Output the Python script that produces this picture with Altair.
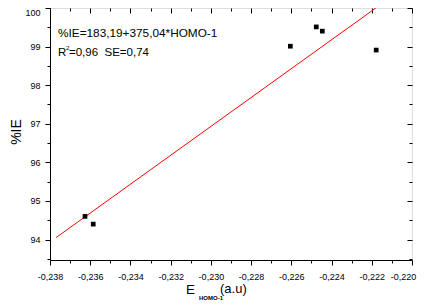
import altair as alt
import pandas as pd

# data
homo = [-0.23626, -0.23585, -0.22605, -0.22476, -0.22446, -0.22178]
ie = [94.60, 94.40, 99.01, 99.51, 99.40, 98.91]
fit_x = [-0.2377, -0.2218]
fit_y = [94.05, 100.0]
x_major = [-0.238, -0.236, -0.234, -0.232, -0.230, -0.228, -0.226, -0.224, -0.222, -0.220]
x_minor = [-0.237, -0.235, -0.233, -0.231, -0.229, -0.227, -0.225, -0.223, -0.221]
y_major = [94, 95, 96, 97, 98, 99, 100]
y_minor = [93.5, 94.5, 95.5, 96.5, 97.5, 98.5, 99.5]
eq_text = ["%IE=183,19+375,04*HOMO-1"]
r_text = ["R"]
r_sup = ["2"]
r_rest = ["=0,96\u00a0\u00a0SE=0,74"]
ytitle = ["%IE"]
xt_e = ["E"]
xt_sub = ["HOMO-1"]
xt_unit = ["(a.u)"]

FONT = "Liberation Sans"
pts = pd.DataFrame({"x": homo, "y": ie})
fit = pd.DataFrame({"x": fit_x, "y": fit_y})

xs = alt.Scale(domain=[-0.238, -0.220], nice=False, zero=False)
ys = alt.Scale(domain=[93.47, 100], nice=False, zero=False)

xlab = "replace(replace(format(datum.value, '.3f'), '.', ','), '\u2212', '-')"


def axis_kw(size, labels, offset, domain):
    return dict(tickSize=size, labels=labels, offset=offset, domain=domain, title=None,
                grid=False, ticks=True, tickColor="black", domainColor="black",
                labelFont=FONT, labelFontSize=9, labelColor="black",
                labelOverlap=False)


def axis_layer(ox, oy, xv, yv, size, labels, offset, domain, xoff=0):
    kw = axis_kw(size, labels, offset, domain)
    ax = alt.Axis(orient=ox, values=xv, labelExpr=xlab, labelPadding=7,
                  labelFlush=False, labelOffset=xoff, **kw)
    if yv is None:
        ay = None
    else:
        ay = alt.Axis(orient=oy, values=yv, labelExpr="format(datum.value, 'd')",
                      labelPadding=5, labelFlush=True, **kw)
    return alt.Chart(pts).mark_point(opacity=0).encode(
        x=alt.X("x:Q", scale=xs, axis=ax),
        y=alt.Y("y:Q", scale=ys, axis=ay),
    )


l1 = axis_layer("bottom", "left", x_major[:-1], y_major, 5, True, 0, True)
l1b = axis_layer("bottom", "left", x_major[-1:], None, 5, True, 0, False, xoff=-9)
l2 = axis_layer("bottom", "left", x_minor, y_minor, 3, False, 0, False)
l3 = axis_layer("top", "right", x_major, y_major, 5, False, -5, False)
l4 = axis_layer("top", "right", x_minor, y_minor, 3, False, -3, False)

line = alt.Chart(fit).mark_line(color="#ff0000", strokeWidth=1).encode(
    x=alt.X("x:Q", scale=xs, axis=None),
    y=alt.Y("y:Q", scale=ys, axis=None),
)
points = alt.Chart(pts).mark_square(color="black", opacity=1, size=22).encode(
    x=alt.X("x:Q", scale=xs, axis=None),
    y=alt.Y("y:Q", scale=ys, axis=None),
)


def txt(lst, x, y, size, weight="normal", angle=0, align="left", baseline="middle"):
    return alt.Chart(pd.DataFrame({"t": lst})).mark_text(
        font=FONT, fontSize=size, fontWeight=weight, angle=angle, align=align,
        baseline=baseline, color="black",
    ).encode(x=alt.value(x), y=alt.value(y), text="t:N")


texts = [
    txt(eq_text, 8, 25, 11.8),
    txt(r_text, 8, 45, 11.5),
    txt(r_sup, 16, 40, 6),
    txt(r_rest, 19, 45, 11.5),
    txt(ytitle, -33, 124, 14, angle=270, align="center"),
    txt(xt_e, 136, 286, 13.5, baseline="alphabetic"),
    txt(xt_sub, 149, 292, 6, weight="bold", baseline="alphabetic"),
    txt(xt_unit, 170, 285, 13, baseline="alphabetic"),
]

chart = alt.layer(l1, l1b, l2, l3, l4, line, points, *texts).resolve_axis(
    x="independent", y="independent"
).properties(
    width=362, height=252,
    autosize=alt.AutoSizeParams(type="none"),
    padding={"left": 42, "top": 0, "right": 6, "bottom": 47},
).configure_view(stroke="black", strokeWidth=1).configure(background="white")

chart.save("out.html", embed_options={"renderer": "svg", "actions": False})
